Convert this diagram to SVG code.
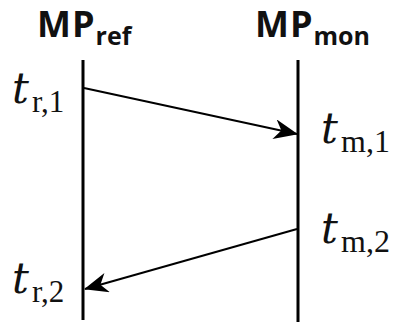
<svg xmlns="http://www.w3.org/2000/svg" width="396" height="322" viewBox="0 0 396 322">
<style>
.hd{font-family:"Open Sans","Liberation Sans",sans-serif;font-weight:bold;fill:#111}
.tv{font-family:"DejaVu Serif",serif;font-style:italic;fill:#111}
.sb{font-family:"Liberation Serif",serif;fill:#111}
.ln{stroke:#000;stroke-width:3;fill:none}
.ar{stroke:#000;stroke-width:2;fill:none}
</style>
<defs>
<marker id="ah" viewBox="0 0 24 20" refX="23" refY="10" markerWidth="24" markerHeight="20" markerUnits="userSpaceOnUse" orient="auto">
<path d="M0,0 L24,10 L0,20 L7,10 Z" fill="#000"/>
</marker>
</defs>
<g id="ref">
<text class="hd" x="37" y="37" font-size="36" letter-spacing="1">MP<tspan font-size="25" dy="8" letter-spacing="0">ref</tspan></text>
<line class="ln" x1="83" y1="60" x2="83" y2="320"/>
</g>
<g id="mon">
<text class="hd" x="255" y="37" font-size="36" letter-spacing="1">MP<tspan font-size="25" dy="8" letter-spacing="0">mon</tspan></text>
<line class="ln" x1="298" y1="60" x2="298" y2="322"/>
</g>
<g id="labels">
<text x="12" y="103"><tspan class="tv" font-size="42">t</tspan><tspan class="sb" font-size="31" x="32" y="112">r,1</tspan></text>
<text x="321" y="143"><tspan class="tv" font-size="42">t</tspan><tspan class="sb" font-size="32" x="341" y="152">m,1</tspan></text>
<text x="321" y="243"><tspan class="tv" font-size="42">t</tspan><tspan class="sb" font-size="32" x="341" y="252">m,2</tspan></text>
<text x="12" y="293"><tspan class="tv" font-size="42">t</tspan><tspan class="sb" font-size="31" x="32" y="302">r,2</tspan></text>
</g>
<g id="connectors">
<line class="ar" x1="84" y1="88" x2="297" y2="134" marker-end="url(#ah)"/>
<line class="ar" x1="297" y1="229" x2="85" y2="289" marker-end="url(#ah)"/>
</g>
</svg>
